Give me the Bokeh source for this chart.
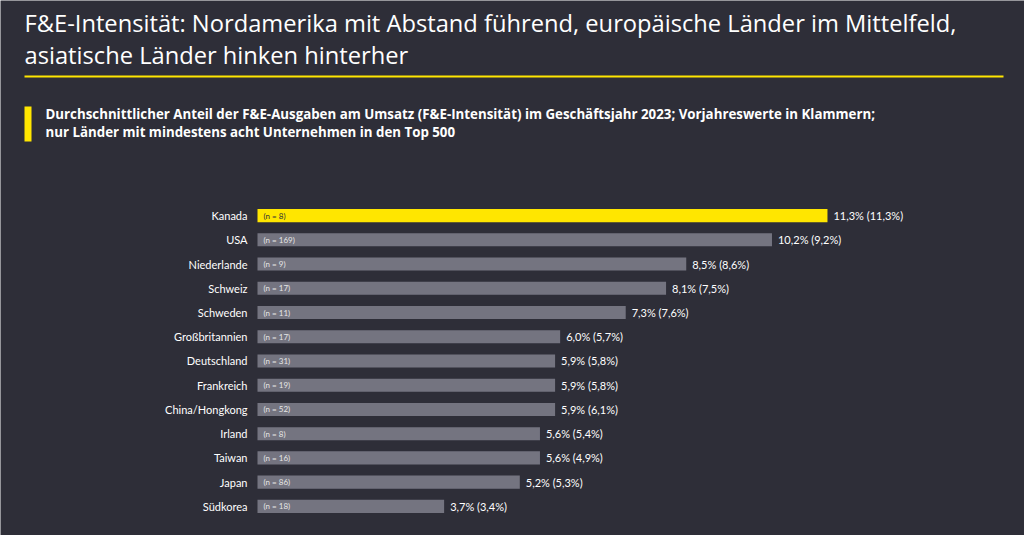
from bokeh.plotting import figure
from bokeh.models import Range1d, Label, BoxAnnotation, ColumnDataSource
from bokeh.core.properties import value
from bokeh.embed import file_html
from bokeh.resources import INLINE

# ---- data ----
countries = ["Kanada", "USA", "Niederlande", "Schweiz", "Schweden", "Großbritannien",
             "Deutschland", "Frankreich", "China/Hongkong", "Irland", "Taiwan", "Japan", "Südkorea"]
intensity_2023 = [11.3, 10.2, 8.5, 8.1, 7.3, 6.0, 5.9, 5.9, 5.9, 5.6, 5.6, 5.2, 3.7]
intensity_2022 = [11.3, 9.2, 8.6, 7.5, 7.6, 5.7, 5.8, 5.8, 6.1, 5.4, 4.9, 5.3, 3.4]
company_counts = [8, 169, 9, 17, 11, 17, 31, 19, 52, 8, 16, 86, 18]

title_lines = ["F&E-Intensität: Nordamerika mit Abstand führend, europäische Länder im Mittelfeld,",
               "asiatische Länder hinken hinterher"]
subtitle_lines = ["Durchschnittlicher Anteil der F&E-Ausgaben am Umsatz (F&E-Intensität) im Geschäftsjahr 2023; Vorjahreswerte in Klammern;",
                  "nur Länder mit mindestens acht Unternehmen in den Top 500"]

BG = "#2e2e38"
YELLOW = "#ffe600"
GREY = "#747480"
FONT = "Lato"
HEAD_FONT = "Open Sans"

W, H = 1024, 535
# layout: pixel position of value 0 and scale (px per %), row centre and row pitch
X0, SX = 257.0, 50.44
Y0, SY = 215.1, 24.23

def dx(px):
    return (px - X0) / SX

def dy(py):
    return (py - Y0) / SY

def de(v):
    return f"{v:.1f}".replace(".", ",") + "%"

n = len(countries)
src = ColumnDataSource(dict(
    row=list(range(n)),
    country=countries,
    v23=intensity_2023,
    zero=[0] * n,
    vlabel=[f"{de(a)} ({de(b)})" for a, b in zip(intensity_2023, intensity_2022)],
    nlabel=[f"(n = {c})" for c in company_counts],
    color=[YELLOW if i == 0 else GREY for i in range(n)],
    ncolor=[BG if i == 0 else "#e6e6e6" for i in range(n)],
))

p = figure(width=W, height=H, output_backend="svg", toolbar_location=None,
           x_range=Range1d(dx(0), dx(W)), y_range=Range1d(dy(H), dy(0)),
           x_axis_location=None, y_axis_location=None,
           min_border_left=0, min_border_right=0, min_border_top=0, min_border_bottom=0)
p.background_fill_color = BG
p.border_fill_color = BG
p.outline_line_color = None
p.grid.visible = False

p.hbar(y="row", left="zero", right="v23", height=0.54, fill_color="color",
       line_color=None, source=src)
p.text(x="v23", y="row", text="vlabel", x_offset=6, text_baseline="middle",
       text_font=value(FONT), text_font_size="11px", text_color="#ffffff", source=src)
p.text(x="zero", y="row", text="nlabel", x_offset=6, text_baseline="middle",
       text_font=value(FONT), text_font_size="8px", text_color="ncolor", source=src)
p.text(x="zero", y="row", text="country", x_offset=-10, text_align="right",
       text_baseline="middle", text_font=value(FONT), text_font_size="11px",
       text_color="#ffffff", source=src)

def add_label(text, px, py, size, style="normal"):
    p.add_layout(Label(x=dx(px), y=dy(py), text=text, text_font=HEAD_FONT,
                       text_font_size=size, text_font_style=style, text_color="#ffffff",
                       text_baseline="alphabetic"))

add_label(title_lines[0], 24, 22.5, "23.7px")
add_label(title_lines[1], 24, 54, "23.7px")
add_label(subtitle_lines[0], 45, 113, "13.3px", "bold")
add_label(subtitle_lines[1], 45, 131.5, "13.3px", "bold")

p.add_layout(BoxAnnotation(left=dx(24), right=dx(1003), top=dy(75), bottom=dy(77),
                           fill_color=YELLOW, fill_alpha=1, line_color=None))
p.add_layout(BoxAnnotation(left=dx(24), right=dx(31), top=dy(106), bottom=dy(141),
                           fill_color=YELLOW, fill_alpha=1, line_color=None))

open("out.html", "w").write(file_html(p, INLINE))
